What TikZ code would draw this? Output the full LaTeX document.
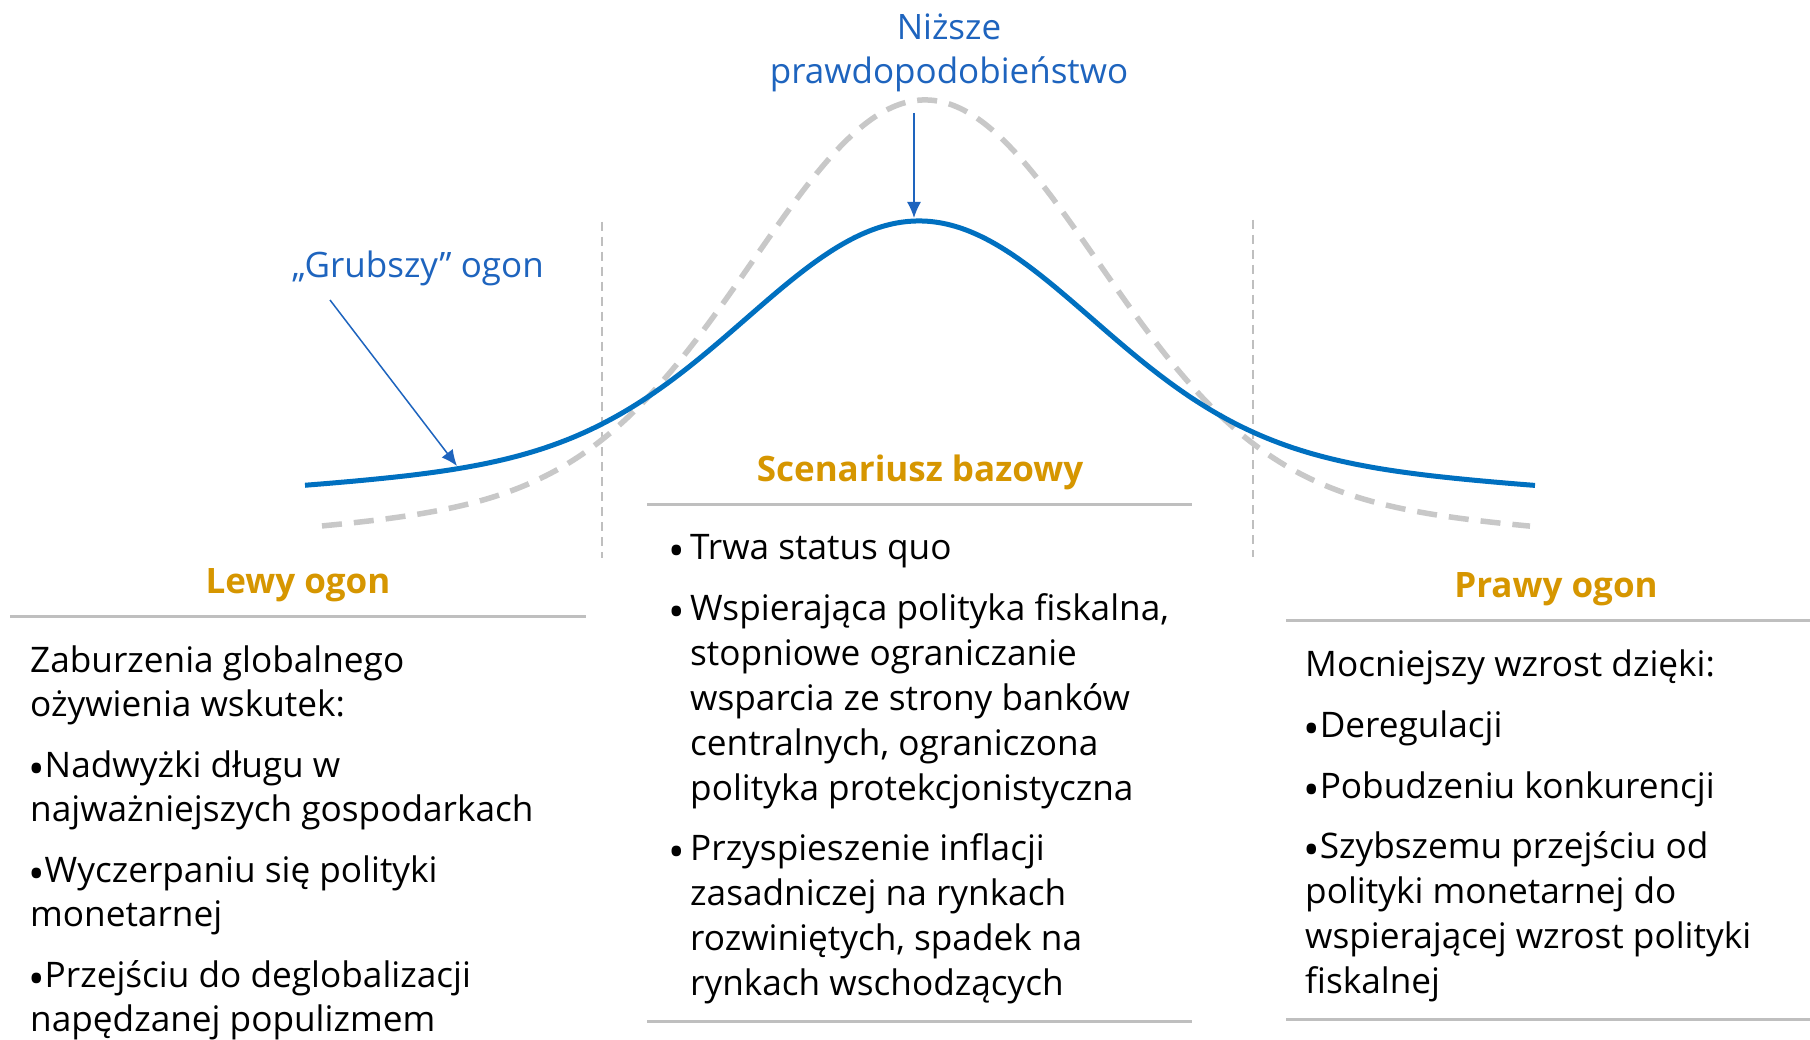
\documentclass[tikz,border=0pt]{standalone}
\usepackage{fontspec}
\setmainfont{Open Sans}
\usetikzlibrary{arrows.meta}
\definecolor{curveblue}{RGB}{0,112,192}
\definecolor{labelblue}{RGB}{30,100,190}
\definecolor{headgold}{RGB}{214,150,0}
\definecolor{rulegray}{RGB}{191,191,191}
\definecolor{dashgray}{RGB}{200,200,200}
\newcommand{\bigbul}{\raisebox{-0.21em}{\fontsize{44}{44}\selectfont •}}
\begin{document}
\begin{tikzpicture}[x=1pt,y=-1pt,
  txt/.style={anchor=base west, inner sep=0pt, font=\fontsize{35.2}{42}\selectfont, text=black},
  head/.style={anchor=base, inner sep=0pt, font=\fontsize{35}{42}\selectfont\bfseries, text=headgold},
  lbl/.style={anchor=base, inner sep=0pt, font=\fontsize{35}{42}\selectfont, text=labelblue},
  hrule/.style={draw=rulegray, line width=3pt},
  divider/.style={draw=rulegray, line width=1.5pt, dash pattern=on 9pt off 6pt},
  pointer/.style={draw=labelblue, line width=1.5pt, -{Latex[length=16pt,width=14pt]}},
  fatcurve/.style={draw=curveblue, line width=5pt},
  normcurve/.style={draw=dashgray, line width=5.5pt, dash pattern=on 20pt off 12pt},
]
\useasboundingbox (0,0) rectangle (1810,1040);
\fill[white] (0,0) rectangle (1810,1040);

% vertical dividers
\coordinate (dl1) at (602,222); \coordinate (dl2) at (602,558);
\coordinate (dr1) at (1253,220); \coordinate (dr2) at (1253,557);
\draw[divider] (dl1) -- (dl2);
\draw[divider] (dr1) -- (dr2);

% normal distribution (dashed)
\draw[normcurve] plot[domain=322:1530, samples=160, smooth]
  (\x, {560-460*(0.85*exp(-((\x-925)/100)^2/5.78)+0.15*exp(-((\x-925)/100)^2/50))});

% fat-tailed distribution
\draw[fatcurve] plot[domain=305:1535, samples=160, smooth]
  (\x, {521-300*(0.78*exp(-((\x-919)/100)^2/5.78)+0.22*exp(-((\x-919)/100)^2/60.5))});

% labels with arrows
\node[lbl] (niz1) at (949,40) {Niższe};
\node[lbl] (niz2) at (949,84) {prawdopodobieństwo};
\coordinate (nizStart) at (914,113);
\coordinate (peak) at (914,218);
\draw[pointer] (nizStart) -- (peak);

\node[lbl] (grub) at (418,278) {„Grubszy” ogon};
\coordinate (grubStart) at (330,300);
\coordinate (tail) at (457,466);
\draw[pointer] (grubStart) -- (tail);

% left column
\node[head] (lh) at (298,593) {Lewy ogon};
\coordinate (lr1) at (10,616); \coordinate (lr2) at (586,616);
\draw[hrule] (lr1) -- (lr2);
\node[txt] (l1) at (30,672) {Zaburzenia globalnego};
\node[txt] (l2) at (30,716) {ożywienia wskutek:};
\node[txt] (l3) at (28,777) {\bigbul Nadwyżki długu w};
\node[txt] (l4) at (30,821) {najważniejszych gospodarkach};
\node[txt] (l5) at (28,882) {\bigbul Wyczerpaniu się polityki};
\node[txt] (l6) at (30,926) {monetarnej};
\node[txt] (l7) at (28,987) {\bigbul Przejściu do deglobalizacji};
\node[txt] (l8) at (30,1031) {napędzanej populizmem};

% center column
\node[head] (ch) at (920,481) {Scenariusz bazowy};
\coordinate (cr1) at (647,504); \coordinate (cr2) at (1192,504);
\draw[hrule] (cr1) -- (cr2);
\coordinate (cb1) at (647,1021); \coordinate (cb2) at (1192,1021);
\draw[hrule] (cb1) -- (cb2);
\node[txt] (cbul1) at (668,559) {\bigbul};
\node[txt] (c1) at (690,559) {Trwa status quo};
\node[txt] (cbul2) at (668,620) {\bigbul};
\node[txt] (c2) at (690,620) {Wspierająca polityka fiskalna,};
\node[txt] (c3) at (690,665) {stopniowe ograniczanie};
\node[txt] (c4) at (690,710) {wsparcia ze strony banków};
\node[txt] (c5) at (690,755) {centralnych, ograniczona};
\node[txt] (c6) at (690,800) {polityka protekcjonistyczna};
\node[txt] (cbul3) at (668,860) {\bigbul};
\node[txt] (c7) at (690,860) {Przyspieszenie inflacji};
\node[txt] (c8) at (690,905) {zasadniczej na rynkach};
\node[txt] (c9) at (690,950) {rozwiniętych, spadek na};
\node[txt] (c10) at (690,995) {rynkach wschodzących};

% right column
\node[head] (rh) at (1556,597) {Prawy ogon};
\coordinate (rr1) at (1286,620); \coordinate (rr2) at (1810,620);
\draw[hrule] (rr1) -- (rr2);
\coordinate (rb1) at (1286,1019); \coordinate (rb2) at (1810,1019);
\draw[hrule] (rb1) -- (rb2);
\node[txt] (r1) at (1305,676) {Mocniejszy wzrost dzięki:};
\node[txt] (r2) at (1303,737) {\bigbul Deregulacji};
\node[txt] (r3) at (1303,798) {\bigbul Pobudzeniu konkurencji};
\node[txt] (r4) at (1303,858) {\bigbul Szybszemu przejściu od};
\node[txt] (r5) at (1305,903) {polityki monetarnej do};
\node[txt] (r6) at (1305,948) {wspierającej wzrost polityki};
\node[txt] (r7) at (1305,993) {fiskalnej};
\end{tikzpicture}
\end{document}
